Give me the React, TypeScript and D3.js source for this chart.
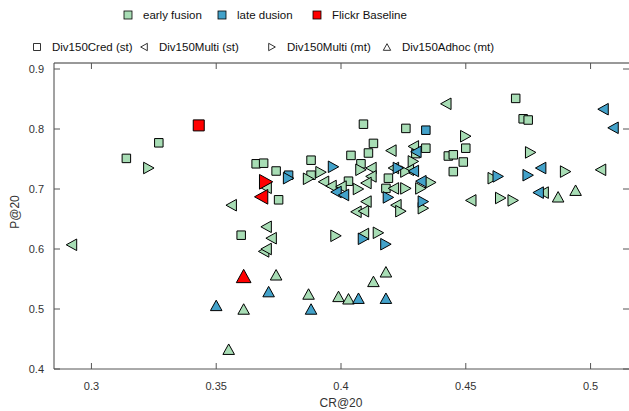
import React from "react";
import * as d3 from "d3";

const width = 629;
const height = 411;

// [CR@20, P@20] pairs
const earlyCred = [
  [0.314, 0.751], [0.327, 0.777], [0.366, 0.742], [0.369, 0.743], [0.374, 0.730],
  [0.375, 0.682], [0.360, 0.623], [0.388, 0.748], [0.388, 0.723], [0.409, 0.808],
  [0.426, 0.801], [0.413, 0.776], [0.411, 0.760], [0.404, 0.756], [0.434, 0.768],
  [0.430, 0.759], [0.443, 0.755], [0.445, 0.757], [0.408, 0.742], [0.403, 0.713],
  [0.419, 0.718], [0.418, 0.701], [0.470, 0.851], [0.473, 0.817], [0.475, 0.815],
  [0.450, 0.768], [0.449, 0.745], [0.445, 0.729],
];
const earlyMultiSt = [
  [0.292, 0.607], [0.356, 0.673], [0.370, 0.702], [0.370, 0.637], [0.372, 0.618],
  [0.369, 0.596], [0.370, 0.600], [0.420, 0.764], [0.429, 0.771], [0.442, 0.842],
  [0.393, 0.712], [0.412, 0.735], [0.412, 0.721], [0.396, 0.705], [0.410, 0.710],
  [0.421, 0.701], [0.421, 0.735], [0.427, 0.732], [0.422, 0.673], [0.406, 0.662],
  [0.409, 0.663], [0.410, 0.679], [0.409, 0.625], [0.452, 0.681], [0.481, 0.694],
  [0.504, 0.732], [0.400, 0.704],
];
const earlyMultiMt = [
  [0.323, 0.735], [0.387, 0.717], [0.392, 0.728], [0.408, 0.732], [0.407, 0.700],
  [0.426, 0.729], [0.426, 0.701], [0.436, 0.711], [0.432, 0.701], [0.424, 0.663],
  [0.433, 0.668], [0.398, 0.622], [0.415, 0.627], [0.450, 0.788], [0.461, 0.718],
  [0.476, 0.761], [0.490, 0.729], [0.464, 0.685], [0.469, 0.681], [0.429, 0.746],
];
const earlyAdhoc = [
  [0.361, 0.500], [0.355, 0.433], [0.374, 0.557], [0.387, 0.525], [0.399, 0.521],
  [0.403, 0.517], [0.413, 0.546], [0.418, 0.562], [0.487, 0.687], [0.494, 0.698],
];
const lateCred = [[0.379, 0.723], [0.434, 0.798]];
const lateMultiSt = [
  [0.430, 0.762], [0.429, 0.730], [0.432, 0.713], [0.398, 0.695], [0.401, 0.690],
  [0.480, 0.735], [0.479, 0.694], [0.505, 0.833], [0.509, 0.802],
];
const lateMultiMt = [
  [0.379, 0.718], [0.397, 0.737], [0.423, 0.735], [0.419, 0.686], [0.433, 0.679],
  [0.409, 0.617], [0.418, 0.608], [0.463, 0.721], [0.475, 0.723],
];
const lateAdhoc = [
  [0.350, 0.506], [0.371, 0.529], [0.388, 0.500], [0.407, 0.518], [0.418, 0.518],
];
const baseCred = [[0.343, 0.806]];
const baseMultiSt = [[0.368, 0.687]];
const baseMultiMt = [[0.370, 0.712]];
const baseAdhoc = [[0.361, 0.555]];

const xTicks = [0.3, 0.35, 0.4, 0.45, 0.5];
const yTicks = [0.4, 0.5, 0.6, 0.7, 0.8, 0.9];

const GREEN = "#a8ddb5";
const BLUE = "#43a2ca";
const RED = "#ff0000";

const left = 54;
const right = 629;
const top = 63;
const bottom = 369;

const x = d3.scaleLinear().domain([0.285, 0.515]).range([left, 628]);
const y = d3.scaleLinear().domain([0.4, 0.91]).range([bottom, top]);

type Shape = "square" | "left" | "right" | "up";

const shapePath = (shape: Shape, s: number) => {
  const h = s / 2;
  if (shape === "square") return `M${-h},${-h}h${s}v${s}h${-s}Z`;
  if (shape === "up") return `M0,${-h * 0.95}L${h * 1.05},${h * 0.95}L${-h * 1.05},${h * 0.95}Z`;
  if (shape === "left") return `M${-h * 0.95},0L${h * 0.95},${-h * 1.05}L${h * 0.95},${h * 1.05}Z`;
  return `M${h * 0.95},0L${-h * 0.95},${-h * 1.05}L${-h * 0.95},${h * 1.05}Z`;
};

const sizeOf = (shape: Shape, big: boolean) => {
  if (shape === "square") return big ? 11 : 8.5;
  return big ? 14 : 11;
};

const series: { data: number[][]; shape: Shape; fill: string; big: boolean }[] = [
  { data: earlyCred, shape: "square", fill: GREEN, big: false },
  { data: earlyMultiSt, shape: "left", fill: GREEN, big: false },
  { data: earlyMultiMt, shape: "right", fill: GREEN, big: false },
  { data: earlyAdhoc, shape: "up", fill: GREEN, big: false },
  { data: lateCred, shape: "square", fill: BLUE, big: false },
  { data: lateMultiSt, shape: "left", fill: BLUE, big: false },
  { data: lateMultiMt, shape: "right", fill: BLUE, big: false },
  { data: lateAdhoc, shape: "up", fill: BLUE, big: false },
  { data: baseCred, shape: "square", fill: RED, big: true },
  { data: baseMultiSt, shape: "left", fill: RED, big: true },
  { data: baseMultiMt, shape: "right", fill: RED, big: true },
  { data: baseAdhoc, shape: "up", fill: RED, big: true },
];

const colorLegend = [
  { label: "early fusion", fill: GREEN, x: 128 },
  { label: "late dusion", fill: BLUE, x: 222 },
  { label: "Flickr Baseline", fill: RED, x: 317 },
];
const shapeLegend: { label: string; shape: Shape; x: number }[] = [
  { label: "Div150Cred (st)", shape: "square", x: 37 },
  { label: "Div150Multi (st)", shape: "left", x: 144 },
  { label: "Div150Multi (mt)", shape: "right", x: 272 },
  { label: "Div150Adhoc (mt)", shape: "up", x: 387 },
];

const font = "Liberation Sans, Arial, sans-serif";

export default function App() {
  return (
    <svg
      width={width}
      height={height}
      style={{ position: "absolute", left: 0, top: 0, background: "#fff" }}
      fontFamily={font}
    >
      {/* legend */}
      {colorLegend.map((d) => (
        <g key={d.label}>
          <rect x={d.x - 4} y={11} width={8} height={8} fill={d.fill} stroke="#000" strokeWidth={0.8} />
          <text x={d.x + 15} y={19} fontSize={11.5} fill="#111">{d.label}</text>
        </g>
      ))}
      {shapeLegend.map((d) => (
        <g key={d.label}>
          <path
            d={shapePath(d.shape, 7)}
            transform={`translate(${d.x},47)`}
            fill="#fff"
            stroke="#000"
            strokeWidth={0.8}
          />
          <text x={d.x + 15} y={51} fontSize={11.5} fill="#111">{d.label}</text>
        </g>
      ))}

      {/* frame */}
      <line x1={left} x2={right} y1={top} y2={top} stroke="#333" />
      <line x1={left} x2={right} y1={bottom} y2={bottom} stroke="#555" />
      <line x1={left} x2={left} y1={top} y2={bottom} stroke="#444" />
      {xTicks.map((t) => (
        <g key={t}>
          <line x1={x(t)} x2={x(t)} y1={bottom} y2={bottom - 6} stroke="#555" />
          <line x1={x(t)} x2={x(t)} y1={top} y2={top + 6} stroke="#555" />
          <text x={x(t)} y={390} textAnchor="middle" fontSize={11} fill="#333">
            {t}
          </text>
        </g>
      ))}
      {yTicks.map((t) => (
        <g key={t}>
          <line x1={left} x2={left + 6} y1={y(t)} y2={y(t)} stroke="#555" />
          <line x1={right - 6} x2={right} y1={y(t)} y2={y(t)} stroke="#555" />
          <text x={44} y={y(t) + 4} textAnchor="end" fontSize={11} fill="#333">
            {t}
          </text>
        </g>
      ))}
      <text x={341} y={407} textAnchor="middle" fontSize={12} fill="#333">CR@20</text>
      <text transform="translate(19,212) rotate(-90)" textAnchor="middle" fontSize={12} fill="#333">
        P@20
      </text>

      {/* points */}
      {series.map((s, i) => (
        <g key={i}>
          {s.data.map((p, j) => (
            <path
              key={j}
              d={shapePath(s.shape, sizeOf(s.shape, s.big))}
              transform={`translate(${x(p[0])},${y(p[1])})`}
              fill={s.fill}
              stroke="#000"
              strokeWidth={1}
            />
          ))}
        </g>
      ))}
    </svg>
  );
}
